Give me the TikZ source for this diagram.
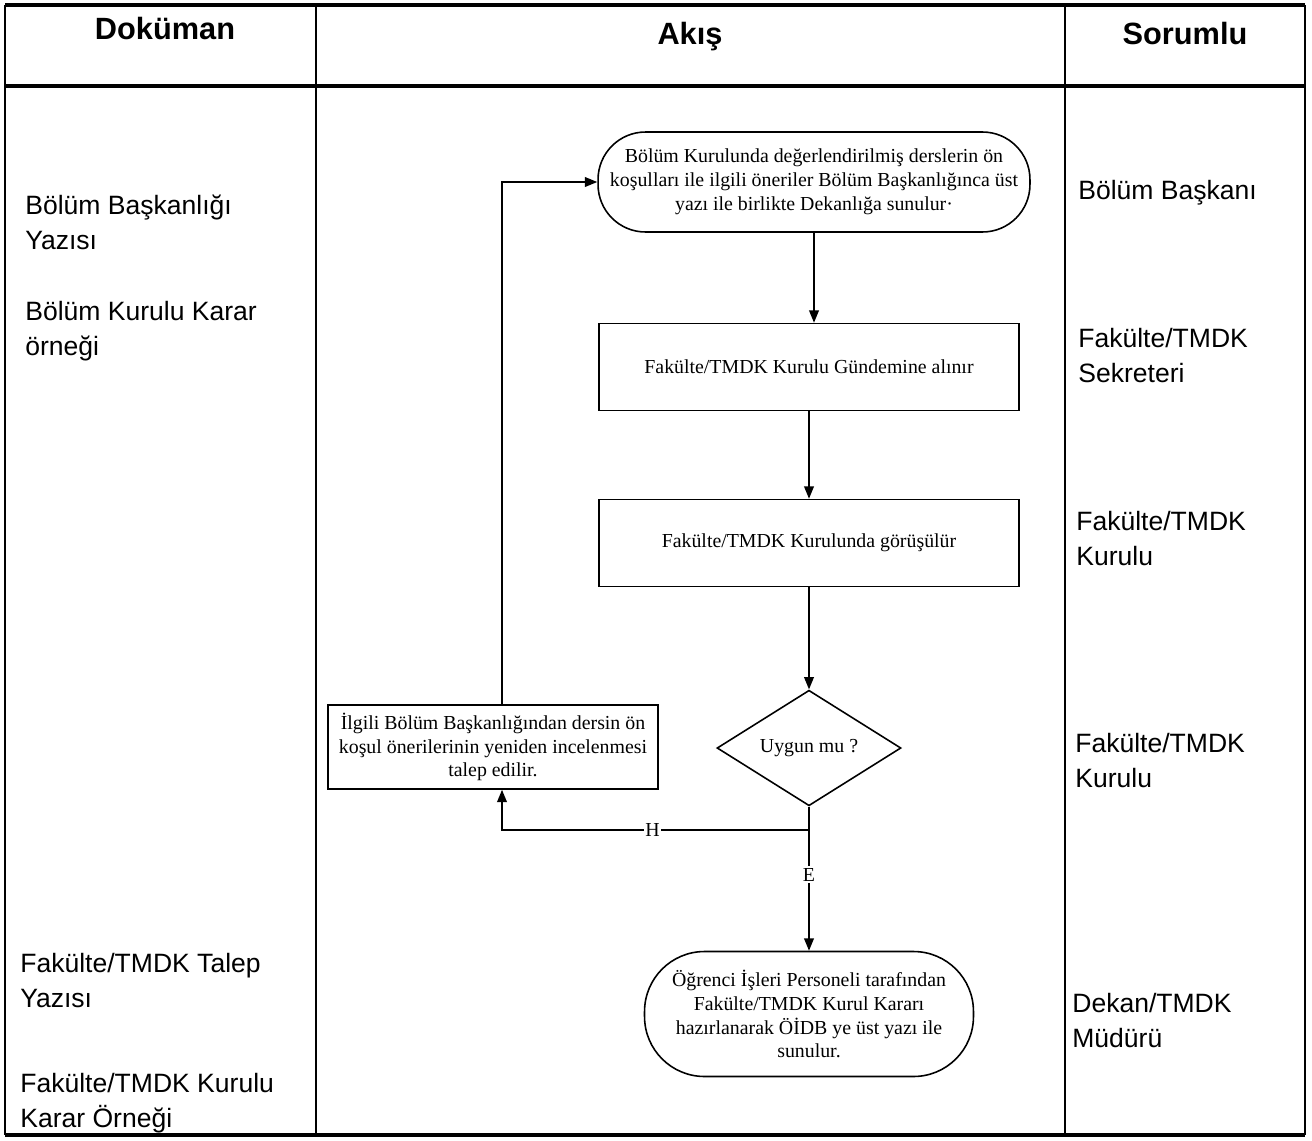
\documentclass[tikz,border=0pt]{standalone}
\usepackage{fontspec}
\setmainfont{Liberation Serif}
\newfontfamily\arialfont{Liberation Sans}
\usetikzlibrary{shapes.geometric,arrows.meta}

\begin{document}
\begin{tikzpicture}[x=0.02cm,y=-0.02cm,
    arr/.style={-{Triangle[length=7pt,width=5.5pt]},line width=0.9pt},
    akis/.style={draw,line width=0.9pt,align=center,inner sep=2pt,font=\fontsize{11.3}{13.6}\selectfont},
    uc/.style={akis,rounded corners=1cm},
    karar/.style={akis,diamond,minimum width=3.68cm,minimum height=1.9cm,inner sep=0pt},
    lbl/.style={fill=white,inner sep=1pt,font=\fontsize{11.3}{13.6}\selectfont},
    baslik/.style={anchor=base,font=\arialfont\bfseries\fontsize{17.5}{20}\selectfont},
    yazi/.style={anchor=base west,align=left,inner sep=0pt,font=\arialfont\fontsize{15.1}{19.8}\selectfont}]
    \useasboundingbox (0,0) rectangle (1312,1140);

    \draw[line width=1.1pt] (5,5) -- (5,1135);
    \draw[line width=1.1pt] (316,5) -- (316,1135);
    \draw[line width=1.1pt] (1065,5) -- (1065,1135);
    \draw[line width=1.1pt] (1305,5) -- (1305,1135);
    \draw[line width=2pt] (5,5) -- (1305,5);
    \draw[line width=2pt] (5,86) -- (1305,86);
    \draw[line width=2pt] (5,1135) -- (1305,1135);

    \node[baslik] (hdok) at (165,39) {Doküman};
    \node[baslik] (hakis) at (690,44) {Akış};
    \node[baslik] (hsor) at (1185,44) {Sorumlu};

    \node[yazi] (dok1) at (25,249) {Bölüm Başkanlığı\\Yazısı};
    \node[yazi] (dok2) at (25,355) {Bölüm Kurulu Karar\\örneği};
    \node[yazi] (dok3) at (20,1007) {Fakülte/TMDK Talep\\Yazısı};
    \node[yazi] (dok4) at (20,1127) {Fakülte/TMDK Kurulu\\Karar Örneği};

    \node[yazi] (sor1) at (1078,199) {Bölüm Başkanı};
    \node[yazi] (sor2) at (1078,382) {Fakülte/TMDK\\Sekreteri};
    \node[yazi] (sor3) at (1076,565) {Fakülte/TMDK\\Kurulu};
    \node[yazi] (sor4) at (1075,787) {Fakülte/TMDK\\Kurulu};
    \node[yazi] (sor5) at (1072,1047) {Dekan/TMDK\\Müdürü};

    \node[uc,minimum width=8.64cm,minimum height=2cm,rounded corners=0.95cm] (basla) at (814,182)
        {Bölüm Kurulunda değerlendirilmiş derslerin ön\\koşulları ile ilgili öneriler Bölüm Başkanlığınca üst\\yazı ile birlikte Dekanlığa sunulur·};
    \node[akis,minimum width=8.4cm,minimum height=1.74cm] (gundem) at (809,367) {Fakülte/TMDK Kurulu Gündemine alınır};
    \node[akis,minimum width=8.4cm,minimum height=1.74cm] (gorus) at (809,543) {Fakülte/TMDK Kurulunda görüşülür};
    \node[karar] (uygun) at (809,748) {Uygun mu ?};
    \node[akis,minimum width=6.6cm,minimum height=1.68cm] (talep) at (493,747)
        {İlgili Bölüm Başkanlığından dersin ön\\koşul önerilerinin yeniden incelenmesi\\talep edilir.};
    \node[uc,minimum width=6.58cm,minimum height=2.5cm,rounded corners=1.2cm] (bitis) at (809,1014)
        {Öğrenci İşleri Personeli tarafından\\Fakülte/TMDK Kurul Kararı\\hazırlanarak ÖİDB\ ye üst yazı ile\\sunulur.};
    \coordinate (ayrim) at (809,830);

    \draw[arr] (basla.south) -- (basla.south |- gundem.north);
    \draw[arr] (gundem) -- (gorus);
    \draw[arr] (gorus) -- (uygun);
    \draw[line width=0.9pt] (uygun.south) -- (ayrim);
    \draw[arr] (ayrim) -| node[lbl,pos=0.255] {H} ([xshift=0.18cm]talep.south);
    \draw[arr] (ayrim) -- node[lbl,pos=0.37] {E} (bitis);
    \draw[arr] ([xshift=0.18cm]talep.north) |- (basla.west);
\end{tikzpicture}
\end{document}
